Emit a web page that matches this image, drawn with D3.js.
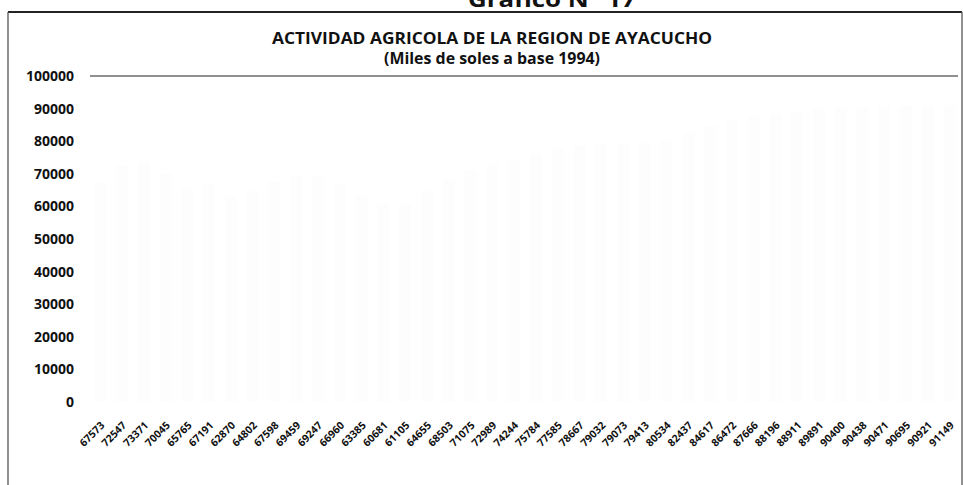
<!DOCTYPE html>
<html>
<head>
<meta charset="utf-8">
<script src="https://cdn.jsdelivr.net/npm/d3@7"></script>
<style>
  html, body { margin: 0; padding: 0; background: #ffffff; }
  svg { display: block; }
  text { font-family: "Open Sans", "Liberation Sans", sans-serif; fill: #111; }
</style>
</head>
<body>
<svg id="chart" width="963" height="485"></svg>
<script>
// ---- data ----
const categories = ["67573","72547","73371","70045","65765","67191","62870","64802","67598","69459",
  "69247","66960","63385","60681","61105","64655","68503","71075","72989","74244",
  "75784","77585","78667","79032","79073","79413","80534","82437","84617","86472",
  "87666","88196","88911","89891","90400","90438","90471","90695","90921","91149"];
const values = [67573,72547,73371,70045,65765,67191,62870,64802,67598,69459,
  69247,66960,63385,60681,61105,64655,68503,71075,72989,74244,
  75784,77585,78667,79032,79073,79413,80534,82437,84617,86472,
  87666,88196,88911,89891,90400,90438,90471,90695,90921,91149];
const yTicks = [0,10000,20000,30000,40000,50000,60000,70000,80000,90000,100000];
const pageTitle = "Gráfico N° 17";
const title = "ACTIVIDAD AGRICOLA DE LA REGION DE AYACUCHO";
const subtitle = "(Miles de soles a base 1994)";

// ---- layout ----
const svg = d3.select("#chart");
const plot = { left: 90, right: 960, top: 76, bottom: 402 };

// frame
svg.append("line").attr("x1", 8).attr("x2", 962).attr("y1", 12).attr("y2", 12)
  .attr("stroke", "#222").attr("stroke-width", 1.8);
svg.append("line").attr("x1", 8).attr("x2", 8).attr("y1", 12).attr("y2", 485)
  .attr("stroke", "#555").attr("stroke-width", 1.3);
svg.append("line").attr("x1", 962).attr("x2", 962).attr("y1", 12).attr("y2", 485)
  .attr("stroke", "#555").attr("stroke-width", 1.3);

// page heading (cut off at top, as in the scan)
svg.append("text").attr("x", 552).attr("y", 7).attr("text-anchor", "middle")
  .attr("font-size", 22).attr("font-weight", "bold")
  .attr("textLength", 168).attr("lengthAdjust", "spacingAndGlyphs")
  .text(pageTitle);

// titles
svg.append("text").attr("x", 492).attr("y", 44).attr("text-anchor", "middle")
  .attr("font-size", 15.5).attr("font-weight", "bold")
  .attr("textLength", 440).attr("lengthAdjust", "spacingAndGlyphs")
  .text(title);
svg.append("text").attr("x", 492).attr("y", 64).attr("text-anchor", "middle")
  .attr("font-size", 15.5).attr("font-weight", "bold")
  .attr("textLength", 216).attr("lengthAdjust", "spacingAndGlyphs")
  .text(subtitle);

// scales
const x = d3.scaleBand().domain(categories).range([plot.left, plot.right]).paddingInner(0.45).paddingOuter(0.2);
const y = d3.scaleLinear().domain([0, 100000]).range([plot.bottom, plot.top]);

// bars (almost completely washed out in the scan)
svg.append("g").selectAll("rect").data(values).join("rect")
  .attr("x", (d, i) => x(categories[i]))
  .attr("width", x.bandwidth())
  .attr("y", d => y(d))
  .attr("height", d => y(0) - y(d))
  .attr("fill", "#fdfdfd");

// top gridline
svg.append("line").attr("x1", plot.left).attr("x2", 958)
  .attr("y1", y(100000)).attr("y2", y(100000))
  .attr("stroke", "#222").attr("stroke-width", 1.2);

// y axis
const yAxis = d3.axisLeft(y).tickValues(yTicks).tickSize(0).tickPadding(0).tickFormat(d3.format("d"));
const gy = svg.append("g").attr("transform", `translate(74,0)`).call(yAxis);
gy.select(".domain").remove();
gy.selectAll("text").attr("font-size", 14).attr("font-weight", "bold")
  .attr("font-family", "'Open Sans', sans-serif").attr("fill", "#111");

// x axis labels
const xAxis = d3.axisBottom(x).tickSize(0).tickPadding(0);
const gx = svg.append("g").attr("transform", `translate(0,${plot.bottom})`).call(xAxis);
gx.select(".domain").remove();
gx.selectAll(".tick text")
  .attr("text-anchor", "end")
  .attr("font-size", 10.5).attr("font-weight", "bold")
  .attr("font-family", "'Open Sans', sans-serif").attr("fill", "#1a1a1a")
  .attr("dy", 0)
  .attr("transform", "translate(5,24) rotate(-45)");
</script>
</body>
</html>
